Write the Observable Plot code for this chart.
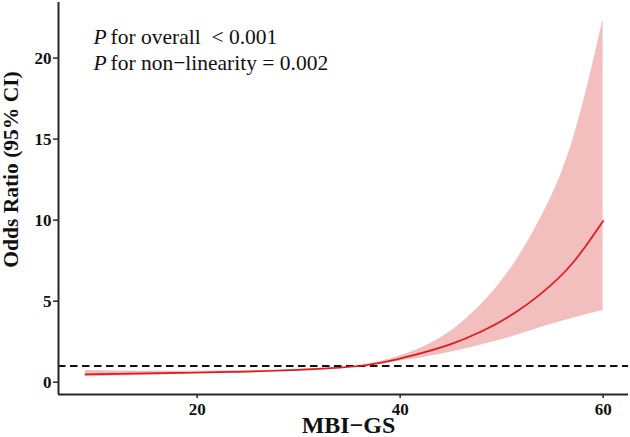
<!DOCTYPE html>
<html>
<head>
<meta charset="utf-8">
<script src="https://cdn.jsdelivr.net/npm/d3@7"></script>
<script src="https://cdn.jsdelivr.net/npm/@observablehq/plot@0.6"></script>
<style>
  html, body { margin: 0; padding: 0; background: #fff; }
  #chart svg { display: block; }
</style>
</head>
<body>
<div id="chart"></div>
<script>
// Restricted cubic spline: odds ratio of the outcome across MBI-GS scores
const mbiGs     = [9, 12, 15, 18, 21, 24, 27, 30, 33, 36, 39, 42, 45, 48, 51, 54, 57, 60];
const oddsRatio = [0.48, 0.51, 0.54, 0.57, 0.60, 0.64, 0.69, 0.76, 0.86, 1.00, 1.32, 1.78, 2.35, 3.13, 4.16, 5.53, 7.35, 9.95];
const ciLower   = [0.33, 0.38, 0.43, 0.48, 0.53, 0.58, 0.64, 0.72, 0.83, 0.97, 1.22, 1.50, 1.85, 2.30, 2.80, 3.40, 3.95, 4.43];
const ciUpper   = [0.72, 0.69, 0.67, 0.67, 0.68, 0.70, 0.74, 0.80, 0.89, 1.04, 1.43, 2.10, 3.15, 4.80, 7.10, 10.30, 14.90, 22.40];

const xTicks = [20, 40, 60];
const yTicks = [0, 5, 10, 15, 20];
const refOR = 1;
const xDomain = [6.34, 62.5];
const yDomain = [-0.76, 23.43];

const xTitle = "MBI−GS";
const yTitle = "Odds Ratio (95% CI)";
const pOverall = "for overall  < 0.001";
const pNonLinear = "for non−linearity = 0.002";

const rows = mbiGs.map((x, i) => ({x, or: oddsRatio[i], lo: ciLower[i], hi: ciUpper[i]}));

const serif = "'Liberation Serif', 'Times New Roman', serif";
const ink = "#262626";

const chart = Plot.plot({
  width: 630,
  height: 437,
  marginLeft: 58,
  marginRight: 2,
  marginTop: 2,
  marginBottom: 43,
  style: {fontFamily: serif, background: "#fff", color: "#111"},
  x: {domain: xDomain, ticks: xTicks, label: null},
  y: {domain: yDomain, ticks: yTicks, label: null},
  marks: [
    // 95% confidence band and fitted curve
    Plot.areaY(rows, {x: "x", y1: "lo", y2: "hi", fill: "#f2bebe", curve: "natural"}),
    Plot.ruleY([refOR], {stroke: "#111", strokeWidth: 2, strokeDasharray: "7.5,4.5"}),
    Plot.lineY(rows, {x: "x", y: "or", stroke: "#e0191e", strokeWidth: 1.7, curve: "natural"}),
    // axis lines
    Plot.ruleX([xDomain[0]], {stroke: ink, strokeWidth: 2}),
    Plot.ruleY([yDomain[0]], {stroke: ink, strokeWidth: 2}),
    Plot.axisX({ticks: xTicks, tickSize: 4, tickPadding: 4, fontSize: 17, fontWeight: "bold", stroke: ink,
      strokeWidth: 1.5, label: null}),
    Plot.axisY({ticks: yTicks, tickSize: 5, tickPadding: 2, fontSize: 17, fontWeight: "bold", stroke: ink,
      strokeWidth: 1.5, label: null}),
    // axis titles
    Plot.text([xTitle], {frameAnchor: "bottom", dx: 5, dy: 31, fontSize: 24, fontWeight: "bold", lineAnchor: "middle"}),
    Plot.text([yTitle], {frameAnchor: "left", dx: -47, dy: -29, rotate: -90, fontSize: 21.5, fontWeight: "bold",
      textAnchor: "middle", lineAnchor: "middle"}),
    // test results: italic P followed by the statistic
    Plot.text(["P"], {frameAnchor: "top-left", dx: 35, dy: 35, fontSize: 21.5, fontStyle: "italic", textAnchor: "start", lineAnchor: "middle"}),
    Plot.text([pOverall], {frameAnchor: "top-left", dx: 52, dy: 35, fontSize: 21.5, textAnchor: "start", lineAnchor: "middle"}),
    Plot.text(["P"], {frameAnchor: "top-left", dx: 35, dy: 61, fontSize: 21.5, fontStyle: "italic", textAnchor: "start", lineAnchor: "middle"}),
    Plot.text([pNonLinear], {frameAnchor: "top-left", dx: 52, dy: 61, fontSize: 21.5, textAnchor: "start", lineAnchor: "middle"})
  ]
});

document.getElementById("chart").appendChild(chart);
</script>
</body>
</html>
